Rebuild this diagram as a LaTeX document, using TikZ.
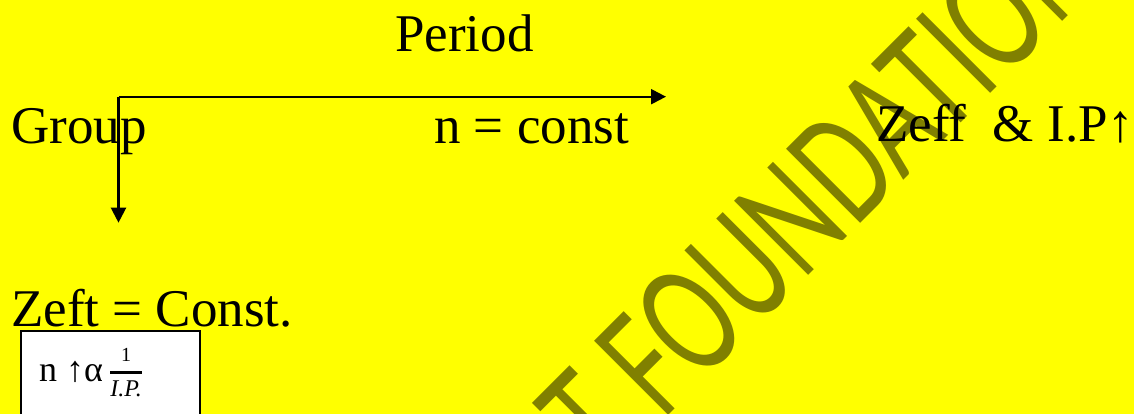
\documentclass[tikz,border=0pt]{standalone}
\usepackage{fontspec}
\usepackage{amsmath}
\usepackage{graphicx}
\usepackage{tikz}
\usetikzlibrary{arrows.meta, positioning}
\setmainfont{Liberation Serif}
\newfontfamily\wmfont{Lato}
\definecolor{cBack}{RGB}{255,255,0}
\definecolor{cMark}{RGB}{128,128,0}
\tikzset{
	lbl/.style   ={inner sep=0pt, anchor=base west, font=\fontsize{53}{60}\selectfont},
	axis/.style  ={-{Triangle[length=15pt, width=15pt]}, line width=2.2pt},
	relbox/.style={rectangle, draw=black, line width=1.6pt, fill=white, minimum width=179pt, minimum height=120pt, anchor=north west, inner sep=0pt},
	wmark/.style ={inner sep=0pt, anchor=base west, rotate=45, text=cMark, font=\wmfont\fontsize{150}{160}\selectfont},
}

\begin{document}
\begin{tikzpicture}[x=1pt, y=1pt]
	\fill[cBack] (0,0) rectangle (1134,414);
	\useasboundingbox (0,0) rectangle (1134,414);
	% watermark behind everything
	\begin{scope}
		\clip (0,0) rectangle (1134,414);
		\node[wmark] (wm) at (662,-8) {\resizebox{630pt}{106pt}{\llap{T\ }FOUNDATION}};
	\end{scope}
	\node[lbl] (period) at (395,362) {Period};
	\node[lbl] (group) at (11,270) {Group};
	\node[lbl] (nconst) at (434,270.5) {n = const};
	\node[lbl] (zeff) at (876,272) {Zeff\ \ \& I.P↑};
	\node[lbl] (zeft) at (11,87) {Zeft = Const.};
	\coordinate (origin) at (118.5,317.3);
	\coordinate (pend) at (666,317.3);
	\coordinate (gend) at (118.5,191.3);
	\draw[axis] (origin) -- (pend);
	\draw[axis] (origin) -- (gend);
	\node[relbox] (ibox) at (20,84) {};
	\node[inner sep=0pt, anchor=base west] (rel) at (39,32.3) {\fontsize{36}{40}\selectfont n ↑α\,\raisebox{3pt}{\fontsize{24}{28}\selectfont$\genfrac{}{}{2.5pt}{0}{\text{\fontsize{20}{24}\selectfont 1}}{\textit{I.P.}}$}};
\end{tikzpicture}
\end{document}
